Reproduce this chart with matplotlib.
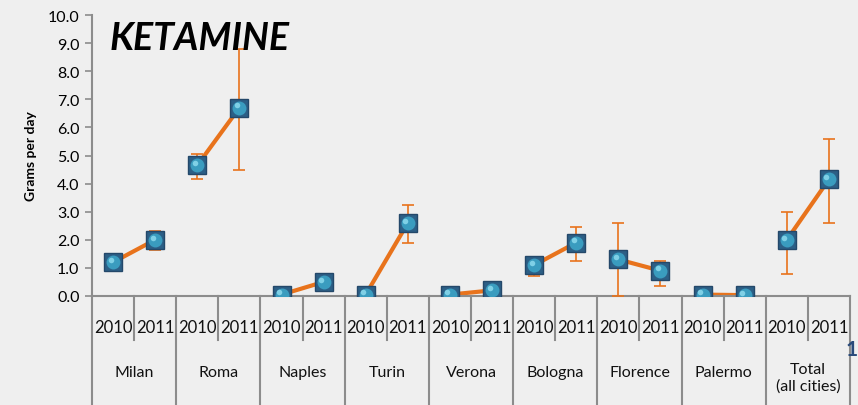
import matplotlib
matplotlib.use("Agg")
import matplotlib.pyplot as plt
import matplotlib.transforms as mtransforms
import numpy as np

plt.rcParams['font.family'] = ['Lato', 'DejaVu Sans']

cities = ["Milan", "Roma", "Naples", "Turin", "Verona", "Bologna",
          "Florence", "Palermo", "Total\n(all cities)"]
years = ["2010", "2011"]

# grams per day, (2010, 2011) per city
values_2010 = [1.2, 4.65, 0.05, 0.05, 0.05, 1.1, 1.3, 0.05, 2.0]
values_2011 = [2.0, 6.7, 0.5, 2.6, 0.2, 1.9, 0.9, 0.03, 4.15]

# error bar ends (low, high); None where no bar is visible
err_2010 = [None, (4.15, 5.05), None, None, None, (0.7, 1.4), (0.0, 2.6), None, (0.8, 3.0)]
err_2011 = [(1.65, 2.3), (4.5, 8.8), None, (1.9, 3.25), None, (1.25, 2.45), (0.35, 1.25), None, (2.6, 5.6)]

fig = plt.figure(figsize=(8.58, 4.06), dpi=100)
fig.patch.set_facecolor('#efefef')
ax = fig.add_axes([92 / 858, 1 - 297 / 406, (850 - 92) / 858, (297 - 16) / 406])
ax.set_facecolor('#efefef')

line_col = '#e8731c'
for i in range(len(cities)):
    x0, x1 = 2 * i, 2 * i + 1
    ax.plot([x0, x1], [values_2010[i], values_2011[i]], color=line_col, lw=3,
            solid_capstyle='round', zorder=2)
    for x, v, e in ((x0, values_2010[i], err_2010[i]), (x1, values_2011[i], err_2011[i])):
        if e is not None:
            ax.errorbar([x], [v], yerr=[[v - e[0]], [e[1] - v]], fmt='none',
                        ecolor=line_col, elinewidth=1.2, capsize=4, capthick=1.2, zorder=3)
        ax.plot([x], [v], marker='s', ms=13, color='#2c5f86', mec='#24486a', mew=1, zorder=4)
        ax.plot([x], [v], marker='o', ms=10, color='#3a9cbf', mec='none', zorder=5)
        ax.plot([x - 0.06], [v + 0.08], marker='o', ms=4, color='#7fd0e6', mec='none', zorder=6)

ax.set_xlim(-0.5, 2 * len(cities) - 0.5)
ax.set_ylim(0, 10)
ax.set_yticks(np.arange(0, 10.01, 1.0))
ax.set_yticklabels([f"{t:.1f}" for t in np.arange(0, 10.01, 1.0)], fontsize=11.5)
ax.set_xticks([])
ax.tick_params(axis='y', length=5, color='#8c8c8c', width=1.2, pad=4)
for s in ('top', 'right'):
    ax.spines[s].set_visible(False)
for s in ('left', 'bottom'):
    ax.spines[s].set_color('#8c8c8c')
    ax.spines[s].set_linewidth(1.5)

ax.set_ylabel("Grams per day", fontsize=10, fontweight='bold', labelpad=8)

# two-level category axis
trans = mtransforms.blended_transform_factory(ax.transData, ax.transAxes)
for i, city in enumerate(cities):
    for j, yr in enumerate(years):
        ax.text(2 * i + j, -0.11, yr, transform=trans, ha='center', va='center',
                fontsize=12, color='#111111')
    if '\n' in city:
        ax.text(2 * i + 0.5, -0.235, city, transform=trans, ha='center', va='top',
                fontsize=11.5, color='#111111', linespacing=1.2)
    else:
        ax.text(2 * i + 0.5, -0.27, city, transform=trans, ha='center', va='center',
                fontsize=11.5, color='#111111')
    ax.plot([2 * i + 0.5] * 2, [0, -0.157], transform=trans, color='#8c8c8c', lw=1.5, clip_on=False)
for k in range(len(cities) + 1):
    ax.plot([2 * k - 0.5] * 2, [0, -0.4], transform=trans, color='#8c8c8c', lw=1.5, clip_on=False)

fig.text(110 / 858, 1 - 50 / 406, "KETAMINE", fontsize=27, fontweight='bold', style='italic',
         color='black', va='baseline', ha='left')
fig.text(858 / 858, 1 - 350 / 406, "1", fontsize=15, fontweight='bold', color='#2a4a7a',
         va='center', ha='right')

fig.savefig("out.png", dpi=100, facecolor=fig.get_facecolor())
